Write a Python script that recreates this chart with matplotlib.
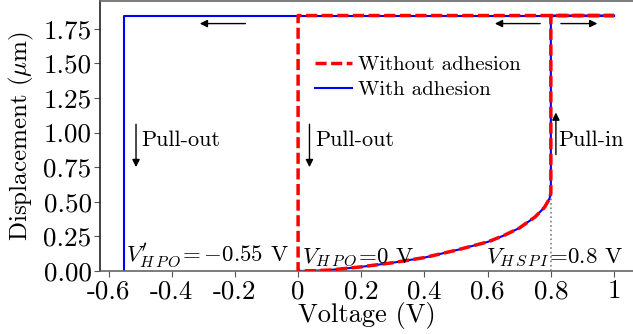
import matplotlib
matplotlib.use("Agg")
import matplotlib.pyplot as plt

plt.rcParams['font.family'] = ['cmr10', 'DejaVu Serif']
plt.rcParams['mathtext.fontset'] = 'cm'
plt.rcParams['axes.unicode_minus'] = False

# Data
curve_v = [0.0, 0.05, 0.1, 0.2, 0.3, 0.4, 0.5, 0.6, 0.65, 0.7, 0.75, 0.78, 0.795, 0.8]
curve_d = [0.0, 0.002, 0.007, 0.03, 0.06, 0.097, 0.15, 0.21, 0.255, 0.31, 0.39, 0.46, 0.52, 0.56]
d_max = 1.845
v_pullin = 0.8
v_pullout_noadh = 0.0
v_pullout_adh = -0.55
v_end = 1.0

xticks = [-0.6, -0.4, -0.2, 0, 0.2, 0.4, 0.6, 0.8, 1.0]
xticklabels = ["-0.6", "-0.4", "-0.2", "0", "0.2", "0.4", "0.6", "0.8", "1"]
yticks = [0, 0.25, 0.5, 0.75, 1.0, 1.25, 1.5, 1.75]
yticklabels = ["0.00", "0.25", "0.50", "0.75", "1.00", "1.25", "1.50", "1.75"]

fig = plt.figure(figsize=(6.33, 3.34), dpi=100)
ax = fig.add_axes([100/633, 63/334, 533/633, 270/334])

# With adhesion (blue)
ax.plot([v_pullout_adh, v_pullout_adh, v_end], [0, d_max, d_max],
        color='blue', lw=1.5, label='With adhesion', zorder=2)
ax.plot(curve_v + [v_pullin, v_end], curve_d + [d_max, d_max], color='blue', lw=1.5, zorder=2)

# Without adhesion (red dashed)
red_x = [v_end, v_pullout_noadh, v_pullout_noadh] + curve_v + [v_pullin, v_end]
red_y = [d_max, d_max, 0] + curve_d + [d_max, d_max]
ax.plot(red_x, red_y, color='red', lw=2.5, ls=(0, (3.2, 1.3)), label='Without adhesion', zorder=3)

# dotted guide at pull-in voltage
ax.plot([v_pullin, v_pullin], [0, curve_d[-1]], color='gray', lw=1.2, ls=':', zorder=1)

ax.set_xlim(-0.627, 1.06)
ax.set_ylim(0, 1.95)
ax.set_xticks(xticks)
ax.set_xticklabels(xticklabels)
ax.set_yticks(yticks)
ax.set_yticklabels(yticklabels)
ax.tick_params(labelsize=19.5, color='#555555', length=4, pad=2)
ax.set_xlabel('Voltage (V)', fontsize=19, labelpad=-1)
ax.set_ylabel(r'Displacement ($\mu$m)', fontsize=18, labelpad=5)

ax.spines['right'].set_visible(False)
ax.spines['top'].set_color('#666666')
ax.spines['bottom'].set_color('#666666')
ax.spines['left'].set_color('#222222')
for s in ax.spines.values():
    s.set_linewidth(1.2)

ap = dict(arrowstyle='-|>', color='black', lw=1.0, mutation_scale=11)
# horizontal arrows
ax.annotate('', xy=(-0.32, 1.787), xytext=(-0.158, 1.787), arrowprops=ap)
ax.annotate('', xy=(0.614, 1.787), xytext=(0.775, 1.787), arrowprops=ap)
ax.annotate('', xy=(0.956, 1.787), xytext=(0.823, 1.787), arrowprops=ap)
# pull-out / pull-in arrows
ax.annotate('', xy=(-0.513, 0.73), xytext=(-0.513, 1.08), arrowprops=ap)
ax.annotate('', xy=(0.036, 0.73), xytext=(0.036, 1.08), arrowprops=ap)
ax.annotate('', xy=(0.816, 1.165), xytext=(0.816, 0.82), arrowprops=ap)

ax.text(-0.497, 0.945, 'Pull-out', fontsize=16, va='center', ha='left')
ax.text(0.053, 0.945, 'Pull-out', fontsize=16, va='center', ha='left')
ax.text(0.823, 0.945, 'Pull-in', fontsize=16, va='center', ha='left')

ax.text(-0.545, 0.012, r"$V^{\prime}_{H\,P\,O}\!={-}0.55$ V", fontsize=16.5, ha='left', va='bottom')
ax.text(0.013, 0.012, r"$V_{H\,P\,O}\!=\!0$ V", fontsize=16.5, ha='left', va='bottom')
ax.text(1.028, 0.012, r"$V_{H\,S\,P\,I}\!=\!0.8$ V", fontsize=16.5, ha='right', va='bottom')

h, l = ax.get_legend_handles_labels()
ax.legend(h[::-1], l[::-1], loc='upper left', bbox_to_anchor=(0.388, 0.828), frameon=False,
          fontsize=15, handlelength=1.78, handletextpad=0.3, labelspacing=0.3, borderaxespad=0)

fig.savefig('out.png', dpi=100)
